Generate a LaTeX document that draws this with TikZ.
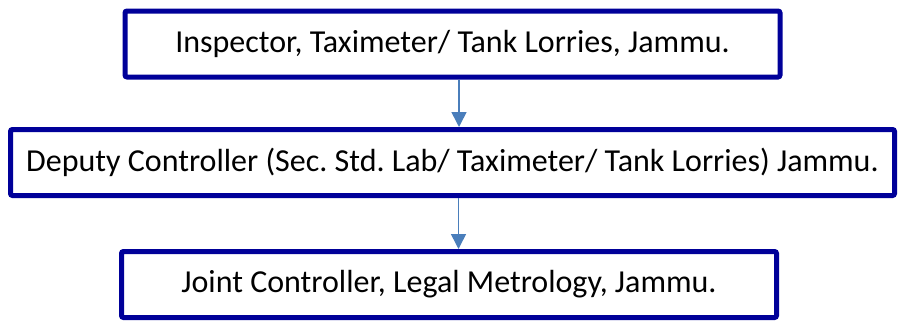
\documentclass[tikz,border=0pt]{standalone}
\usepackage{fontspec}
\setmainfont{Carlito}
\usepackage{xcolor}
\usepackage{tikz}
\usetikzlibrary{positioning,arrows.meta}

\definecolor{boxnavy}{HTML}{000099}
\definecolor{arrblue}{HTML}{4A7EBB}
\frenchspacing

\begin{document}
\begin{tikzpicture}[x=1pt,y=-1pt,
    every node/.style={on grid},
    box/.style={draw=boxnavy,line width=5pt,rounded corners=2pt,fill=white,
      minimum height=66pt,inner sep=0pt,font=\fontsize{32}{38}\selectfont},
    arr/.style={draw=arrblue,line width=1.6pt,-{Triangle[width=15pt,length=15pt]}}]
    \useasboundingbox (0,0) rectangle (899,324);
    \node[box,minimum width=655pt] (insp) at (452.5,44) {Inspector, Taximeter/ Tank Lorries, Jammu.};
    \node[box,minimum width=884pt,below of=insp,node distance=118.5pt] (dep) {Deputy Controller (Sec. Std. Lab/ Taximeter/ Tank Lorries) Jammu.};
    \node[box,minimum width=655pt,below of=dep,node distance=122pt,xshift=-3.5pt] (joint) {Joint Controller, Legal Metrology, Jammu.};
    \draw[arr] ([xshift=6.5pt]insp.south) -- ([xshift=6.5pt]insp.south |- dep.north);
    \draw[arr] ([xshift=6pt]dep.south) -- ([xshift=6pt]dep.south |- joint.north);
  \end{tikzpicture}
\end{document}
